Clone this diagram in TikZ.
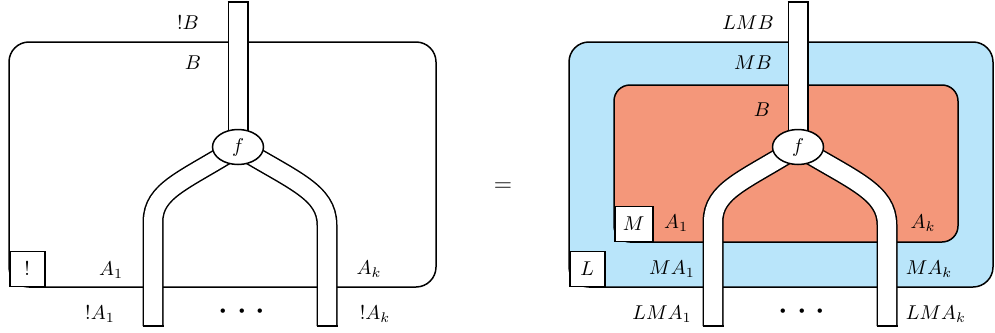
\documentclass[tikz,border=0pt]{standalone}
\usetikzlibrary{shapes.geometric, backgrounds}
\definecolor{outerblue}{HTML}{B9E5FA}
\definecolor{innersalmon}{HTML}{F4977A}

\begin{document}
\begin{tikzpicture}[x=0.5pt, y=-0.5pt,
    region/.style={draw, line width=0.75pt, rounded corners=10pt},
    tag/.style={draw, line width=0.75pt, fill=white, minimum width=17.5pt,
      minimum height=17.5pt, inner sep=0pt, anchor=south west},
    wire/.style={line width=0.75pt, double=white, double distance=9pt},
    wcap/.style={line width=0.75pt},
    morph/.style={ellipse, draw, line width=0.75pt, fill=white,
      minimum width=25.5pt, minimum height=17.5pt, inner sep=0pt},
    lab/.style={inner sep=0pt}]
  \useasboundingbox (0,0) rectangle (995,332);
  % morphism nodes
  \node[morph] (fL) at (238,147) {$f$};
  \node[morph] (fR) at (798,147) {$f$};
  % region corners
  \coordinate (swL) at (9,287);
  \coordinate (swB) at (569,287);
  \coordinate (swS) at (614,242);
  \begin{pgfonlayer}{background}
    % regions
    \draw[region] (9,42) rectangle (436,287);
    \draw[region, fill=outerblue] (569,42) rectangle (993,287);
    \draw[region, fill=innersalmon, rounded corners=8pt] (614,85) rectangle (958,242);
    % wires
    \foreach \f/\x in {fL/238, fR/798} {
      \coordinate (\f-top) at (\x,2);
      \coordinate (\f-one) at (\x-85,326);
      \coordinate (\f-k) at (\x+89,326);
      \draw[wire] (\f.center) -- (\f-top);
      \draw[wire] (\f.center) .. controls (\x-54,181) and (\x-85,190) .. (\x-85,222) -- (\f-one);
      \draw[wire] (\f.center) .. controls (\x+56,181) and (\x+89,192) .. (\x+89,225) -- (\f-k);
      \foreach \e in {top, one, k}
        \draw[wcap] (\f-\e) ++(-10.5,0) -- ++(21,0);
    }
  \end{pgfonlayer}
  % tags
  \node[tag] (bang) at (swL) {!};
  \node[tag] (tagL) at (swB) {$L$};
  \node[tag, minimum width=19pt] (tagM) at (swS) {$M$};
  % left labels
  \node[lab] (lbB) at (188,23) {$!B$};
  \node[lab] (lB) at (193,63) {$B$};
  \node[lab] (lA1) at (111,270) {$A_1$};
  \node[lab] (lAk) at (369,269) {$A_k$};
  \node[lab] (lbA1) at (100,314) {$!A_1$};
  \node[lab] (lbAk) at (375,314) {$!A_k$};
  \node[lab] (ldotsL) at (242,312) {\huge$\cdots$};
  % equals
  \node[lab] (eq) at (503,187) {\large$=$};
  % right labels
  \node[lab] (rLMB) at (748,23) {$LMB$};
  \node[lab] (rMB) at (753,63) {$MB$};
  \node[lab] (rB) at (762,110) {$B$};
  \node[lab] (rA1) at (676,223) {$A_1$};
  \node[lab] (rAk) at (923,223) {$A_k$};
  \node[lab] (rMA1) at (672,269) {$MA_1$};
  \node[lab] (rMAk) at (929,269) {$MA_k$};
  \node[lab] (rLMA1) at (662,314) {$LMA_1$};
  \node[lab] (rLMAk) at (936,314) {$LMA_k$};
  \node[lab] (ldotsR) at (802,312) {\huge$\cdots$};
\end{tikzpicture}
\end{document}
